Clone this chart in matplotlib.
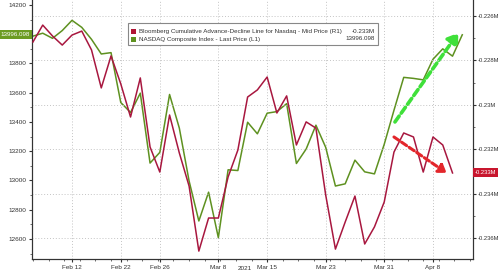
import numpy as np
import matplotlib.pyplot as plt
from matplotlib.ticker import MultipleLocator, FuncFormatter
from matplotlib.patches import Rectangle

plt.rcParams['font.family'] = ['Liberation Sans', 'DejaVu Sans']
plt.rcParams['axes.unicode_minus'] = False

# trading days, Feb 8 .. Apr 13 2021
days = ['Feb 8', 'Feb 9', 'Feb 10', 'Feb 11', 'Feb 12', 'Feb 16', 'Feb 17', 'Feb 18', 'Feb 19',
        'Feb 22', 'Feb 23', 'Feb 24', 'Feb 25', 'Feb 26', 'Mar 1', 'Mar 2', 'Mar 3', 'Mar 4',
        'Mar 5', 'Mar 8', 'Mar 9', 'Mar 10', 'Mar 11', 'Mar 12', 'Mar 15', 'Mar 16', 'Mar 17',
        'Mar 18', 'Mar 19', 'Mar 22', 'Mar 23', 'Mar 24', 'Mar 25', 'Mar 26', 'Mar 29', 'Mar 30',
        'Mar 31', 'Apr 1', 'Apr 5', 'Apr 6', 'Apr 7', 'Apr 8', 'Apr 9', 'Apr 12', 'Apr 13']
tick_days = ['Feb 12', 'Feb 22', 'Feb 26', 'Mar 8', 'Mar 15', 'Mar 23', 'Mar 31', 'Apr 8']

# NASDAQ Composite - last price (left axis)
nasdaq = [13987, 14007, 13972, 14025, 14095, 14047, 13965, 13865, 13874, 13533, 13465, 13597,
          13119, 13192, 13588, 13358, 12997, 12723, 12920, 12609, 13073, 13068, 13398, 13319,
          13460, 13471, 13525, 13116, 13215, 13378, 13227, 12962, 12977, 13139, 13059, 13045,
          13247, 13480, 13705, 13698, 13688, 13829, 13900, 13850, 13996.098]

# cumulative advance-decline line, millions (right axis), no print for Apr 13
adline = [-0.22717, -0.22641, -0.22690, -0.22731, -0.22686, -0.22668, -0.22753, -0.22924,
          -0.22780, -0.22906, -0.23055, -0.22879, -0.23190, -0.23303, -0.23046, -0.23217,
          -0.23366, -0.23659, -0.23510, -0.23510, -0.23325, -0.23204, -0.22965, -0.22933,
          -0.22875, -0.23037, -0.22960, -0.23181, -0.23077, -0.23105, -0.23406, -0.23650,
          -0.23528, -0.23411, -0.23627, -0.23550, -0.23438, -0.23213, -0.23127, -0.23145,
          -0.23303, -0.23145, -0.23181, -0.23307]

left_ticks = [12600, 12800, 13000, 13200, 13400, 13600, 13800, 14200]
right_ticks = [-0.236, -0.234, -0.232, -0.23, -0.228, -0.226]

# hand drawn trend arrows: (day index, value)
green_arrow = [(37.1, 13400), (43.6, 14009)]
red_arrow = [(37.0, -0.23145), (42.4, -0.23307)]

red = '#a8173f'
green = '#5e9120'
grid_c = '#c4c4c4'

fig = plt.figure(figsize=(5, 2.75), dpi=100)
ax = fig.add_axes([32/500, 16/275, 441/500, 259/275])
ax2 = ax.twinx()

x = np.arange(len(days))
ax.plot(x, nasdaq, color=green, lw=1.1, zorder=3)
ax2.plot(x[:len(adline)], adline, color=red, lw=1.1, zorder=3)

ax.set_xlim(-0.1, 45.1)
ax.set_ylim(12463, 14234)
ax2.set_ylim(-0.236946, -0.22528)

tpos = [days.index(d) for d in tick_days]
ax.set_xticks(tpos)
ax.set_xticklabels(tick_days)
ax.xaxis.set_minor_locator(MultipleLocator(1.6))
ax.set_yticks(left_ticks)
ax.yaxis.set_minor_locator(MultipleLocator(100))
ax2.set_yticks(right_ticks)
ax2.yaxis.set_minor_locator(MultipleLocator(0.001))
ax2.yaxis.set_major_formatter(FuncFormatter(lambda v, p: '%gM' % round(v, 4)))

for a in (ax, ax2):
    a.tick_params(axis='both', which='major', length=2.5, width=0.8, color='#333333',
                  labelsize=4.6, labelcolor='#333333', pad=1.5)
    a.tick_params(axis='both', which='minor', length=1.5, width=0.6, color='#555555')
    a.spines['top'].set_visible(False)
    for s in ('left', 'bottom', 'right'):
        a.spines[s].set_color('#333333')
        a.spines[s].set_linewidth(0.8)
ax2.tick_params(axis='y', which='major', labelsize=4.2, pad=1)

ax.grid(axis='x', color=grid_c, ls=(0, (1, 2)), lw=0.7)
ax2.grid(axis='y', color=grid_c, ls=(0, (1, 2)), lw=0.7)

# trend arrows
ax.annotate('', xy=green_arrow[1], xytext=green_arrow[0],
            arrowprops=dict(arrowstyle='-|>,head_width=0.4,head_length=0.6', color='#3fe03a',
                            lw=2.6, ls=(0, (2, 1)), shrinkA=0, shrinkB=0), zorder=5)
ax2.annotate('', xy=red_arrow[1], xytext=red_arrow[0],
             arrowprops=dict(arrowstyle='-|>,head_width=0.3,head_length=0.45', color='#e3262b',
                             lw=2.2, ls=(0, (2, 1)), shrinkA=0, shrinkB=0), zorder=5)

# last value tags
ax.text(-0.004, nasdaq[-1], '%.3f' % nasdaq[-1], transform=ax.get_yaxis_transform(),
        ha='right', va='center', fontsize=4.5, color='white', zorder=10, clip_on=False,
        bbox=dict(boxstyle='square,pad=0.35', fc='#6c9c22', ec='none'))
ax2.text(1.004, adline[-1], '%gM' % round(adline[-1], 3), transform=ax2.get_yaxis_transform(),
         ha='left', va='center', fontsize=4.2, color='white', zorder=10, clip_on=False,
         bbox=dict(boxstyle='square,pad=0.35', fc='#c8162e', ec='none'))

# legend box
fig.patches.append(Rectangle((128/500, 1 - 45/275), 250/500, 22/275, transform=fig.transFigure,
                             fc='white', ec='#888888', lw=0.8, zorder=20))
rows = [('Bloomberg Cumulative Advance-Decline Line for Nasdaq - Mid Price (R1)',
         '%gM' % round(adline[-1], 3), '#b01535'),
        ('NASDAQ Composite Index - Last Price (L1)', '%.3f' % nasdaq[-1], '#5e9120')]
for i, (lab, val, c) in enumerate(rows):
    yy = 1 - (31.5 + 7.5 * i) / 275
    fig.patches.append(Rectangle((131/500, yy - 2.5/275), 5/500, 5/275, transform=fig.transFigure,
                                 fc=c, ec='none', zorder=21))
    fig.text(139/500, yy, lab, fontsize=4.5, color='#333333', va='center', ha='left', zorder=22)
    fig.text(375/500, yy, val, fontsize=4.5, color='#333333', va='center', ha='right', zorder=22)

fig.text(245/500, 1 - 269/275, '2021', fontsize=4.6, color='#333333', ha='center', va='center')

fig.savefig('out.png', dpi=100)
